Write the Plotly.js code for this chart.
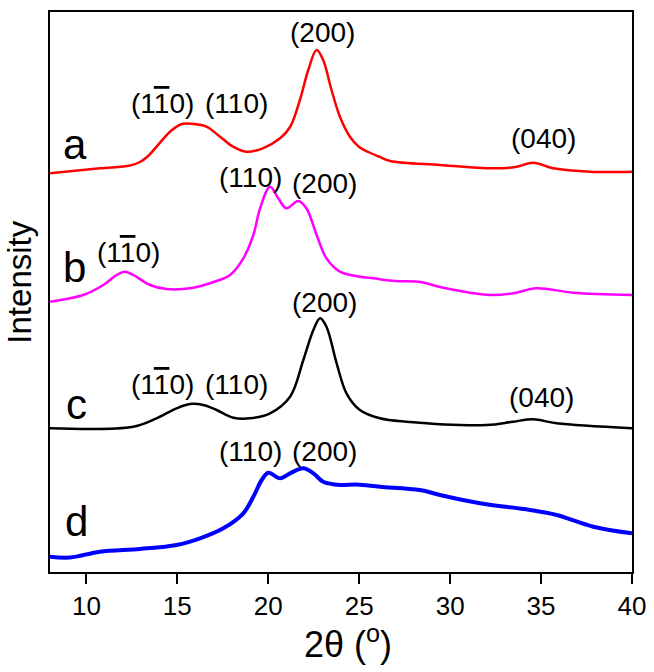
<!DOCTYPE html>
<html>
<head>
<meta charset="utf-8">
<script src="https://cdn.plot.ly/plotly-3.0.1.min.js"></script>
<style>html,body{margin:0;padding:0;background:#fff;}#chart{width:654px;height:672px;}</style>
</head>
<body>
<div id="chart"></div>
<script>
// Curve a (red)
const aX = [8, 10.75, 12.4, 12.95, 13.4, 13.86, 14.6, 15.24, 15.88, 16.6, 17.35, 18.06, 18.8, 19.7, 20.65, 21.2, 21.74, 22.2, 22.66, 23.02, 23.48, 23.94, 24.5, 25.0, 25.5, 26.1, 26.7, 29.44, 32.37, 33.6, 34.57, 35.67, 37.7, 40];
const aY = [398.7, 403.7, 406.5, 410, 416, 425.3, 440.3, 448, 448, 445.3, 435.3, 425.3, 420.3, 423.7, 433.7, 445, 472, 502, 522, 512, 482, 455.3, 435, 425, 420, 415.3, 411, 407, 403.7, 405, 409.3, 403.7, 400.3, 400.3];
// Curve b (magenta)
const bX = [8, 9.83, 10.93, 11.66, 12.12, 12.58, 13.5, 14.41, 15.7, 17.16, 17.9, 18.63, 19.18, 19.55, 20.1, 20.55, 21.0, 21.65, 22.1, 22.66, 23.2, 23.94, 25.04, 25.77, 27.0, 28.4, 29.44, 32.2, 33.47, 34.75, 36.76, 40];
const bY = [270.3, 277, 287, 297, 300.3, 297, 287, 283, 283.7, 291, 297, 313.7, 337, 363.7, 385.3, 373.7, 363.7, 371, 363.7, 337, 313.7, 300.3, 295.3, 293.7, 291, 290, 285, 277, 278.7, 283.7, 279.3, 277];
// Curve c (black)
const cX = [8, 12.58, 13.86, 14.96, 15.7, 16.43, 17.16, 18.08, 19.0, 20.1, 21.2, 21.93, 22.48, 22.85, 23.2, 23.76, 24.3, 25.04, 26.14, 27.6, 32.0, 33.46, 34.57, 35.85, 40];
const cY = [143.7, 145.3, 153.7, 163.7, 168, 167, 162, 154.3, 153.7, 158.7, 175.3, 212, 242, 253.7, 245.3, 208.7, 178.7, 162, 153.7, 150.3, 147, 150.3, 152.7, 148.7, 143.7];
// Curve d (blue)
const dX = [8, 9.1, 10.75, 12.95, 14.96, 16.25, 17.53, 18.63, 19.18, 19.64, 20.0, 20.65, 21.2, 21.93, 22.48, 23.02, 23.94, 24.86, 26.14, 28.34, 29.44, 31.64, 34.39, 35.85, 37.87, 40];
const dY = [15.3, 14.5, 20.3, 23, 27, 33.7, 43.7, 58.7, 75.3, 92, 99.3, 93.7, 98.7, 103.7, 98.7, 90.3, 87, 87.5, 85.3, 82, 77, 68.7, 62, 57, 45.3, 38.7];

const xTicks = [10, 15, 20, 25, 30, 35, 40];
const BAR1 = "(1<span style=\"text-decoration:overline\">1</span>0)";
const peakLabels = [BAR1, "(110)", "(200)", "(040)", BAR1, "(110)", "(200)", "(200)", BAR1, "(110)", "(040)", "(110)", "(200)"];
const peakX = [14.19, 18.23, 22.98, 35.11, 12.34, 19.0, 23.07, 23.07, 14.19, 18.23, 35.05, 19.0, 23.07];
const peakY = [468.5, 468.5, 539.5, 434, 320, 395, 389, 270, 188, 188, 174.5, 121, 121];
const curveNames = ["a", "b", "c", "d"];
const nameX = [9.37, 9.37, 9.46, 9.46];
const nameY = [428, 305, 168, 51];

const FONT = "Arial, 'Liberation Sans', sans-serif";
const traces = [
  {x: aX, y: aY, color: "#ff0000", w: 2.5},
  {x: bX, y: bY, color: "#ff00ff", w: 2.5},
  {x: cX, y: cY, color: "#000000", w: 2.5},
  {x: dX, y: dY, color: "#0000ff", w: 4}
].map(t => ({x: t.x, y: t.y, type: "scatter", mode: "lines",
  line: {color: t.color, width: t.w, shape: "spline", smoothing: 1}, hoverinfo: "skip"}));

const annotations = [];
peakLabels.forEach((t, i) => annotations.push({x: peakX[i], y: peakY[i], xref: "x", yref: "y",
  text: t, showarrow: false, xanchor: "center", yanchor: "middle", font: {family: FONT, size: 28, color: "#000"}}));
curveNames.forEach((t, i) => annotations.push({x: nameX[i], y: nameY[i], xref: "x", yref: "y",
  text: t, showarrow: false, xanchor: "center", yanchor: "middle", font: {family: FONT, size: 42, color: "#000"}}));
annotations.push({x: -0.052, y: 0.518, xref: "paper", yref: "paper", text: "Intensity", textangle: -90,
  showarrow: false, xanchor: "center", yanchor: "middle", font: {family: FONT, size: 33, color: "#000"}});
annotations.push({x: 0.512, y: -0.125, xref: "paper", yref: "paper", text: "2\u03b8 (<sup>o</sup>)",
  showarrow: false, xanchor: "center", yanchor: "middle", font: {family: FONT, size: 36, color: "#000"}});

const layout = {
  width: 654, height: 672,
  margin: {l: 50, r: 22, t: 12, b: 100},
  paper_bgcolor: "#fff", plot_bgcolor: "#fff",
  showlegend: false,
  font: {family: FONT, color: "#000"},
  xaxis: {range: [8, 40], tickvals: xTicks, ticktext: xTicks.map(String), ticks: "outside", ticklen: 10, tickwidth: 2,
    tickcolor: "#000", showline: true, linewidth: 2, linecolor: "#000", mirror: true, showgrid: false, zeroline: false,
    tickfont: {family: FONT, size: 26, color: "#000"}},
  yaxis: {range: [0, 560], showticklabels: false, ticks: "", showline: true, linewidth: 2, linecolor: "#000",
    mirror: true, showgrid: false, zeroline: false},
  annotations: annotations
};
Plotly.newPlot("chart", traces, layout, {displayModeBar: false, staticPlot: true});
</script>
</body>
</html>
